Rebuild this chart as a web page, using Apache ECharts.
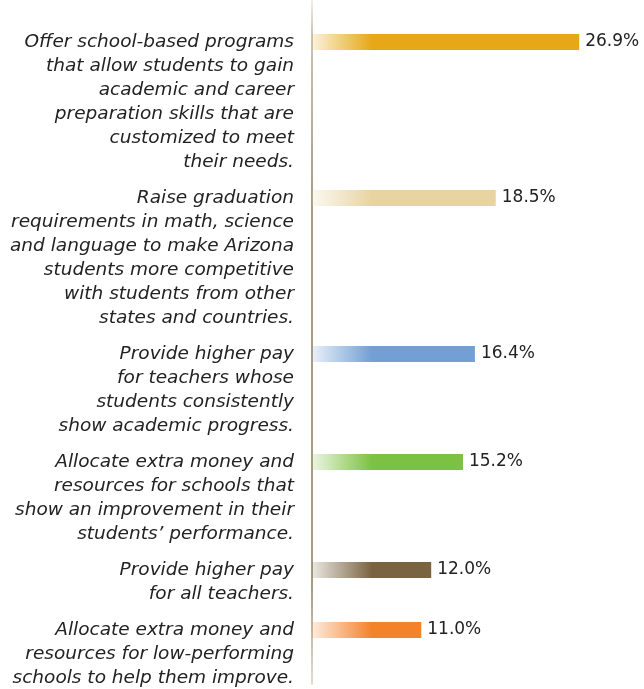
<!DOCTYPE html>
<html>
<head>
<meta charset="utf-8">
<script src="https://cdn.jsdelivr.net/npm/echarts@6/dist/echarts.min.js"></script>
<style>
  html, body { margin: 0; padding: 0; background: #fff; }
  #chart { width: 644px; height: 689px; }
</style>
</head>
<body>
<div id="chart"></div>
<script>
var myChart = echarts.init(document.getElementById('chart'));

// survey options, top to bottom
var labels = [
    'Offer school-based programs\nthat allow students to gain\nacademic and career\npreparation skills that are\ncustomized to meet\ntheir needs.',
    'Raise graduation\nrequirements in math, science\nand language to make Arizona\nstudents more competitive\nwith students from other\nstates and countries.',
    'Provide higher pay\nfor teachers whose\nstudents consistently\nshow academic progress.',
    'Allocate extra money and\nresources for schools that\nshow an improvement in their\nstudents\u2019 performance.',
    'Provide higher pay\nfor all teachers.',
    'Allocate extra money and\nresources for low-performing\nschools to help them improve.'
];
var values = [26.9, 18.5, 16.4, 15.2, 12.0, 11.0];
var colors = ['#e6a817', '#e8d4a3', '#729fd4', '#7dc142', '#7a6340', '#f4822a'];

var FONT = '"DejaVu Sans", sans-serif';
var SLOT = 12; // half a text line

// each text line takes two half-line slots, plus one slot of gap between groups
var slots = [];
var slotText = [];
var barData = [];
var lead = 3;
for (var s = 0; s < lead; s++) { slots.push('s' + slots.length); slotText.push(''); barData.push('-'); }
labels.forEach(function (lab, i) {
    var n = lab.split('\n').length;
    var count = i < labels.length - 1 ? 2 * n + 1 : 2 * n - 1;
    for (var k = 0; k < count; k++) {
        slots.push('s' + slots.length);
        slotText.push(k === n - 1 ? lab : '');
        barData.push(k === 0 ? {
            value: values[i],
            itemStyle: {
                color: new echarts.graphic.LinearGradient(312, 0, 372, 0, [
                    { offset: 0, color: echarts.color.modifyAlpha(colors[i], 0.15) },
                    { offset: 1, color: colors[i] }
                ], true)
            }
        } : '-');
    }
});

option = {
    animation: false,
    grid: {
        left: 312, right: 34, top: 0, height: slots.length * SLOT,
        outerBoundsMode: 'none'
    },
    xAxis: { type: 'value', min: 0, max: 30, show: false },
    yAxis: {
        type: 'category',
        inverse: true,
        data: slots,
        axisTick: { show: false },
        axisLine: {
            show: true,
            lineStyle: {
                width: 2,
                color: new echarts.graphic.LinearGradient(0, 0, 0, 689, [
                    { offset: 0, color: '#f2eee8' },
                    { offset: 0.05, color: '#cdc4b4' },
                    { offset: 0.3, color: '#a89b80' },
                    { offset: 0.85, color: '#a89b80' },
                    { offset: 1, color: '#e6e0d6' }
                ], true)
            }
        },
        axisLabel: {
            interval: 0,
            margin: 18,
            align: 'right',
            fontFamily: FONT,
            fontStyle: 'italic',
            fontSize: 18.5,
            lineHeight: 24,
            color: '#222',
            formatter: function (v, idx) { return slotText[idx]; }
        }
    },
    series: [{
        type: 'bar',
        barWidth: 16,
        data: barData,
        label: {
            show: true,
            position: 'right',
            distance: 6,
            fontFamily: FONT,
            fontSize: 17,
            color: '#222',
            formatter: function (p) { return p.value.toFixed(1) + '%'; }
        }
    }]
};

myChart.setOption(option);
</script>
</body>
</html>
